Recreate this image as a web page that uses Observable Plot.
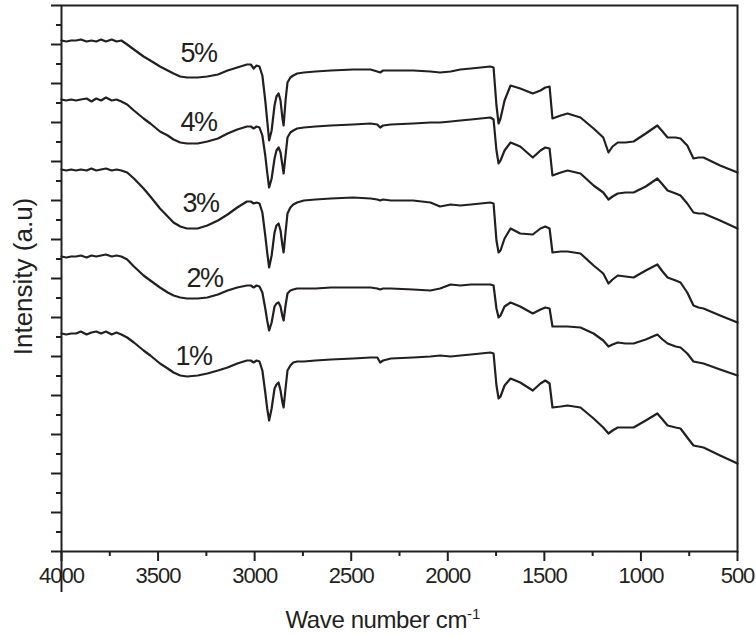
<!DOCTYPE html>
<html>
<head>
<meta charset="utf-8">
<script src="https://cdn.jsdelivr.net/npm/d3@7"></script>
<script src="https://cdn.jsdelivr.net/npm/@observablehq/plot@0.6"></script>
<style>
  html, body { margin: 0; padding: 0; background: #fff; }
  #chart svg { display: block; }
</style>
</head>
<body>
<div id="chart"></div>
<script>
// Wavenumber grid (cm-1), shared by all spectra
const wavenumber = [4000,3975,3950,3925,3900,3870,3845,3820,3795,3770,
  3740,3715,3690,3660,3625,3575,3540,3490,3450,3420,
  3385,3350,3295,3245,3190,3140,3090,3040,3020,3005,
  2990,2975,2960,2945,2935,2925,2912,2897,2887,2876,
  2866,2856,2850,2840,2830,2815,2800,2780,2745,2685,
  2605,2490,2400,2365,2350,2335,2295,2180,2090,2040,
  1985,1935,1880,1830,1780,1763,1748,1737,1727,1706,
  1675,1625,1560,1520,1495,1473,1458,1415,1380,1313,
  1245,1195,1168,1147,1120,1080,1038,975,915,888,
  862,820,795,760,728,702,676,590,500];

// Intensity (a.u., stacked spectra)
const intensity5 = [511,510,511,511,512,510,511,510,512,510,
  512,510,511,507,502,495,491,485,481,478,
  475,474,474,475,477,481,484,487,487,483,
  486,485,476,451,431,411,421,446,455,458,
  451,433,426,451,469,474,476,478,479,480,
  481,482,482,480,479,481,481,481,480,479,
  480,482,483,484,485,484,446,428,433,451,
  466,463,458,461,464,465,433,436,438,434,
  423,414,399,405,409,409,410,418,426,420,
  414,414,413,406,393,394,394,386,379];
const intensity4 = [452,451,452,451,452,453,450,453,451,454,
  451,452,450,447,441,433,428,420,416,412,
  409,408,408,410,413,418,422,425,425,423,
  425,424,416,396,379,364,373,393,401,404,
  399,386,378,396,414,419,421,423,424,425,
  426,427,428,427,424,426,427,428,429,429,
  430,431,432,433,434,432,401,388,391,401,
  409,405,394,401,404,403,376,379,381,378,
  366,359,352,355,358,359,359,365,373,367,
  361,358,356,348,339,338,338,331,323];
const intensity3 = [382,381,382,381,382,381,383,381,382,383,
  381,382,381,379,373,363,355,343,335,329,
  325,323,323,326,331,337,344,350,350,348,
  349,348,339,316,299,284,296,319,326,328,
  321,306,299,319,338,344,347,349,351,352,
  353,354,353,352,351,352,351,351,349,345,
  347,346,347,348,349,348,311,299,301,313,
  323,318,317,323,325,323,299,300,300,298,
  286,278,268,272,276,275,274,281,287,280,
  274,271,269,259,246,244,243,236,229];
const intensity2 = [295,294,295,295,296,294,296,295,296,297,
  295,296,295,292,285,276,271,264,259,256,
  254,253,253,254,257,261,264,266,266,264,
  266,265,259,243,231,221,229,245,248,249,
  245,235,231,246,258,261,262,263,263,263,
  264,264,264,263,262,263,263,262,261,263,
  267,266,267,267,267,266,243,234,236,245,
  249,245,238,242,244,243,225,225,225,224,
  218,211,205,207,209,208,208,212,217,212,
  208,205,204,198,190,189,188,182,176];
const intensity1 = [218,217,218,218,220,217,219,220,218,220,
  217,219,217,214,209,201,196,188,183,179,
  176,175,176,178,181,184,188,191,191,189,
  191,190,181,159,143,131,143,163,167,169,
  161,149,144,163,181,186,189,190,190,191,
  192,193,194,194,189,191,193,194,195,196,
  195,196,197,198,199,198,166,153,155,166,
  173,169,161,168,171,168,144,145,146,144,
  133,124,118,121,124,124,124,131,138,132,
  126,124,123,114,106,105,104,96,88];

const seriesNames = ["5%", "4%", "3%", "2%", "1%"];
const seriesValues = [intensity5, intensity4, intensity3, intensity2, intensity1];

// Label anchors (wavenumber, intensity) for each series name
const labelWavenumber = [3291, 3291, 3280, 3260, 3317];
const labelIntensity = [498, 429, 348, 273, 195];

// Axis ticks
const xMajorTicks = [4000, 3500, 3000, 2500, 2000, 1500, 1000, 500];
const xMinorTicks = [3750, 3250, 2750, 2250, 1750, 1250, 750];
const yMajorTicks = [0, 39, 78, 117, 156, 195, 234, 273, 312, 351, 390, 429, 468, 507, 546];
const yMinorTicks = [19.5, 58.5, 97.5, 136.5, 175.5, 214.5, 253.5, 292.5, 331.5, 370.5, 409.5, 448.5, 487.5, 526.5];

const rows = seriesNames.flatMap((s, k) =>
  wavenumber.map((w, i) => ({series: s, w, v: seriesValues[k][i]})));
const labels = seriesNames.map((s, k) => ({s, w: labelWavenumber[k], v: labelIntensity[k]}));

const ink = "#231f20";
const font = "'Liberation Sans', Arial, sans-serif";

const chart = Plot.plot({
  width: 756,
  height: 637,
  marginLeft: 61,
  marginRight: 19,
  marginTop: 5,
  marginBottom: 86,
  style: {fontFamily: font, color: ink, background: "#fff"},
  x: {domain: [4000, 500]},
  y: {domain: [0, 546]},
  marks: [
    Plot.ruleX([4000], {y1: -41, y2: 0, stroke: ink, strokeWidth: 2, clip: false}),
    Plot.axisX(xMajorTicks, {tickSize: 10, tickPadding: 6, fontSize: 22, strokeWidth: 2, tickFormat: d => String(d), label: null}),
    Plot.axisX(xMinorTicks, {tickSize: 5, strokeWidth: 2, tickFormat: () => "", label: null}),
    Plot.axisY(yMajorTicks, {tickSize: 10, strokeWidth: 2, tickFormat: () => "", label: null}),
    Plot.axisY(yMinorTicks, {tickSize: 5, strokeWidth: 2, tickFormat: () => "", label: null}),
    Plot.frame({stroke: ink, strokeWidth: 2}),
    Plot.line(rows, {x: "w", y: "v", z: "series", stroke: ink, strokeWidth: 2.2, strokeLinejoin: "round"}),
    Plot.text(labels, {x: "w", y: "v", text: "s", fontSize: 27, fill: ink, textAnchor: "middle", lineAnchor: "middle"}),
    Plot.text(["Wave number cm"], {frameAnchor: "bottom-left", dx: 224, dy: 76, textAnchor: "start", lineAnchor: "bottom", fontSize: 24, fill: ink}),
    Plot.text(["Intensity (a.u)"], {frameAnchor: "left", dx: -30, dy: -2, rotate: -90, textAnchor: "middle", lineAnchor: "bottom", fontSize: 26, fill: ink})
  ]
});

// Tighten letter spacing to match the condensed lettering of the original,
// and add the superscript "-1" to the x-axis title.
const svg = d3.select(chart);
svg.selectAll('g[aria-label="x-axis tick label"] text').attr("letter-spacing", "-1px");
svg.selectAll("text").each(function() {
  const t = this.textContent;
  if (t === "Wave number cm") {
    const el = d3.select(this).attr("letter-spacing", "-0.4px");
    el.append("tspan").attr("dy", "-0.6em").attr("font-size", 15).attr("letter-spacing", "0px").text("-1");
  }
  if (seriesNames.includes(t)) d3.select(this).attr("letter-spacing", "-1.5px");
});
document.getElementById("chart").appendChild(chart);
</script>
</body>
</html>
